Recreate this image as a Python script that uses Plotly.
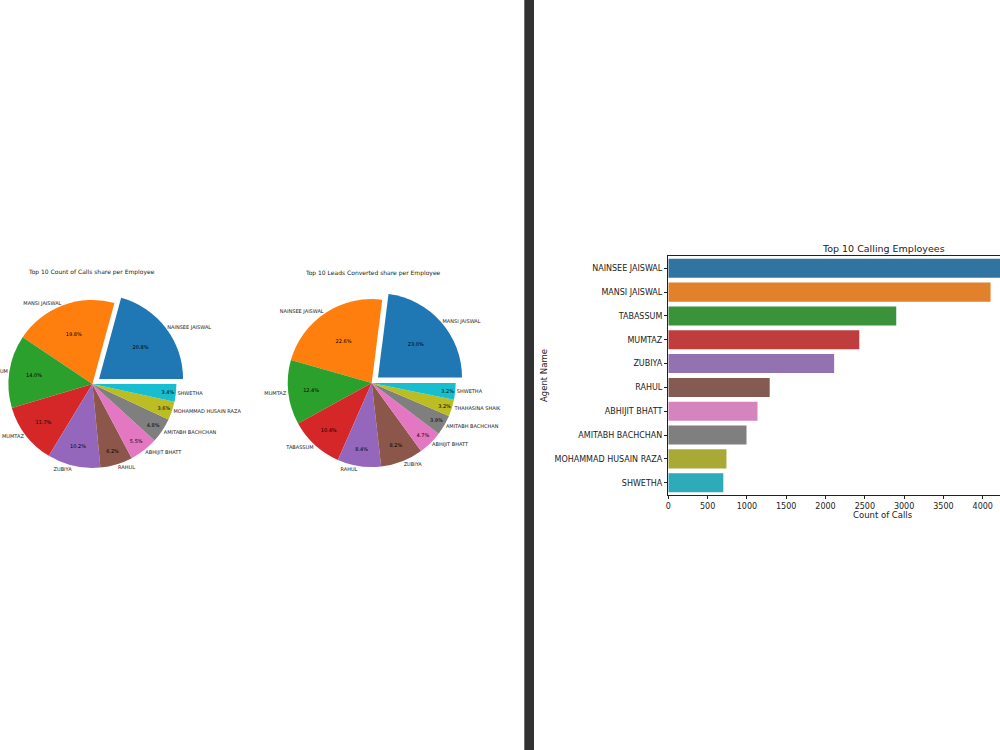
import plotly.graph_objects as go

# ---------------- data ----------------
call_names = ["NAINSEE JAISWAL", "MANSI JAISWAL", "TABASSUM", "MUMTAZ", "ZUBIYA",
              "RAHUL", "ABHIJIT BHATT", "AMITABH BACHCHAN", "MOHAMMAD HUSAIN RAZA", "SHWETHA"]
call_counts = [4300, 4100, 2900, 2430, 2110, 1290, 1135, 995, 740, 700]

lead_names = ["MANSI JAISWAL", "NAINSEE JAISWAL", "MUMTAZ", "TABASSUM", "RAHUL",
              "ZUBIYA", "ABHIJIT BHATT", "AMITABH BACHCHAN", "THAHASINA SHAIK", "SHWETHA"]
lead_share = [23.0, 22.6, 12.4, 10.4, 8.4, 8.2, 4.7, 3.9, 3.2, 3.2]

x_ticks = [0, 500, 1000, 1500, 2000, 2500, 3000, 3500, 4000]

# ---------------- styles ----------------
pie_colors = ["#1f77b4", "#ff7f0e", "#2ca02c", "#d62728", "#9467bd",
              "#8c564b", "#e377c2", "#7f7f7f", "#bcbd22", "#17becf"]
bar_colors = ["#3274a1", "#e1812c", "#3a923a", "#c03d3e", "#9372b2",
              "#845b53", "#d684bd", "#7f7f7f", "#a9aa35", "#2eabb8"]
FONT = "DejaVu Sans"
W, H = 1000, 750
pull = [0.1] + [0] * 9


def dom(cx, cy, half):
    return dict(x=[max(0, (cx - half) / W), (cx + half) / W],
                y=[1 - (cy + half) / H, 1 - (cy - half) / H])


fig = go.Figure()

for names, vals, cx, cy in [(call_names, call_counts, 92.4, 384),
                            (lead_names, lead_share, 371.7, 383)]:
    d = dom(cx, cy, 92.4)
    # matplotlib-style start: first slice begins at 3 o'clock, going counter-clockwise
    rot = 90 - 360.0 * vals[0] / sum(vals)
    common = dict(labels=names, values=vals, sort=False, direction="counterclockwise",
                  rotation=rot, pull=pull, domain=d, showlegend=False, automargin=False)
    fig.add_trace(go.Pie(
        marker=dict(colors=pie_colors, line=dict(width=0)),
        texttemplate="%{percent:.1%}", textposition="inside",
        insidetextorientation="horizontal",
        insidetextfont=dict(family=FONT, size=5, color="black"),
        hoverinfo="label+percent", **common))
    fig.add_trace(go.Pie(
        marker=dict(colors=["rgba(0,0,0,0)"] * 10, line=dict(width=0)),
        texttemplate="%{label}", textposition="outside",
        outsidetextfont=dict(family=FONT, size=5, color="#222"),
        hoverinfo="skip", **common))

fig.add_trace(go.Bar(
    x=call_counts, y=call_names, orientation="h", width=0.8,
    marker=dict(color=bar_colors, line=dict(width=0)),
    showlegend=False, xaxis="x", yaxis="y"))

fig.update_layout(
    width=W, height=H, margin=dict(l=0, r=0, t=0, b=0, autoexpand=False),
    paper_bgcolor="white", plot_bgcolor="white",
    font=dict(family=FONT, color="#222"),
    xaxis=dict(domain=[668.3 / W, 1.0], range=[0, 4220], tickvals=x_ticks,
               ticks="outside", ticklen=3.5, tickwidth=0.8, tickcolor="#222",
               showline=True, linecolor="#222", linewidth=0.8, mirror=True,
               showgrid=False, zeroline=False, automargin=False,
               tickfont=dict(size=8, family=FONT)),
    yaxis=dict(domain=[1 - 494.6 / H, 1 - 256.4 / H], autorange="reversed",
               categoryorder="array", categoryarray=call_names,
               ticks="outside", ticklen=3.5, tickwidth=0.8, tickcolor="#222",
               showline=True, linecolor="#222", linewidth=0.8,
               showgrid=False, zeroline=False, automargin=False,
               tickfont=dict(size=8, family=FONT)),
    shapes=[dict(type="rect", xref="paper", yref="paper", x0=524.3 / W, x1=534 / W,
                 y0=0, y1=1, fillcolor="#323232", line=dict(width=0), layer="above")],
    annotations=[
        dict(text="Top 10 Count of Calls share per Employee", x=91.7 / W, y=1 - 272 / H,
             font=dict(size=6, family=FONT)),
        dict(text="Top 10 Leads Converted share per Employee", x=373 / W, y=1 - 273 / H,
             font=dict(size=6, family=FONT)),
        dict(text="Top 10 Calling Employees", x=883 / W, y=1 - 248 / H,
             font=dict(size=9.5, family=FONT)),
        dict(text="Count of Calls", x=883 / W, y=1 - 515 / H,
             font=dict(size=8.5, family=FONT)),
        dict(text="Agent Name", x=544 / W, y=1 - 376 / H, textangle=-90,
             font=dict(size=8.5, family=FONT)),
    ],
)
fig.update_annotations(xref="paper", yref="paper", showarrow=False,
                       xanchor="center", yanchor="middle")

fig.write_html("out.html")
